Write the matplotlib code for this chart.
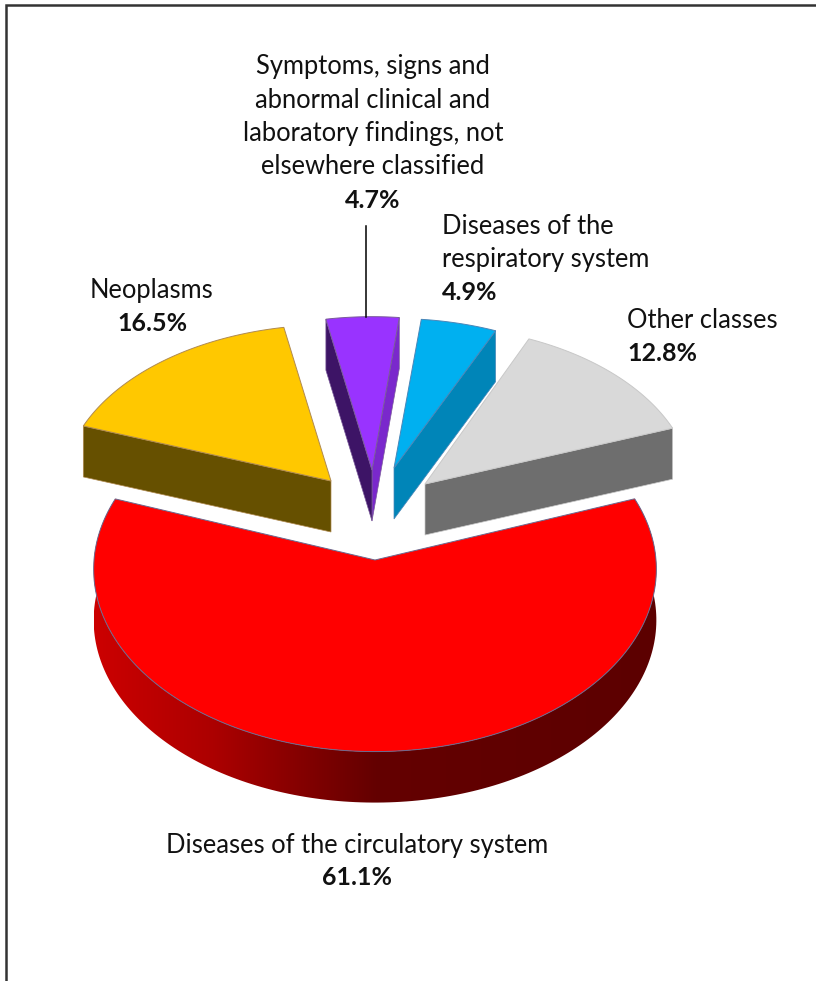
import numpy as np
import matplotlib
matplotlib.use("Agg")
import matplotlib.pyplot as plt
from matplotlib.colors import LinearSegmentedColormap
from matplotlib.patches import Polygon

plt.rcParams['font.family'] = ['Lato', 'DejaVu Sans']

# Data, in drawing order round the pie
values = [12.8, 4.9, 4.7, 16.5, 61.1]
percent_labels = ['12.8%', '4.9%', '4.7%', '16.5%', '61.1%']
name_labels = [
    ['Other classes'],
    ['Diseases of the', 'respiratory system'],
    ['Symptoms, signs and', 'abnormal clinical and', 'laboratory findings, not', 'elsewhere classified'],
    ['Neoplasms'],
    ['Diseases of the circulatory system'],
]

# Colours
top_colors = ['#D9D9D9', '#00B0F0', '#9933FF', '#FFC800', '#FF0000']
edge_colors = ['#C8C8C8', '#4A86B8', '#7A5A9A', '#B08A50', '#6A6A90']
start_side = ['#6E6E6E', '#0085B8', '#7A28CC', None, None]
end_side = [None, None, '#3D1466', '#665000', None]

# Layout in pixels: exploded centre and radii for each slice
centers = [(425, 484), (394, 468), (372, 470), (331, 481), (375, 560)]
radii_x = [268, 262, 262, 268, 281]
radii_y = [166, 157, 161, 164, 182]
DEPTH = 51
PERSPECTIVE = 0.05
START_ANGLE = 20

# Label placement: x, first baseline, line spacing, alignment
label_pos = [
    (627, 328, 33, 'left'),
    (442, 234, 33, 'left'),
    (373, 74, 33.5, 'center'),
    (152, 298, 33, 'center'),
    (357, 853, 32, 'center'),
]


def project(center, rx, ry, angle):
    t = np.radians(angle)
    k = 1 + PERSPECTIVE * np.sin(t)
    return np.column_stack((center[0] + rx * np.cos(t) / k, center[1] - ry * np.sin(t) / k))


fig = plt.figure(figsize=(8.16, 9.81), dpi=100)
ax = fig.add_axes([0, 0, 1, 1])
ax.axis('off')

bounds = START_ANGLE + np.concatenate(([0], np.cumsum(values))) * 3.6

for i in range(len(values)):
    c, rx, ry = centers[i], radii_x[i], radii_y[i]
    a0, a1 = bounds[i], bounds[i + 1]
    arc = project(c, rx, ry, np.linspace(a0, a1, 200))
    apex = np.array(c, dtype=float)
    down = np.array([0, DEPTH])

    # outer rim of the big slice, shaded from left to right
    if i == len(values) - 1:
        rim = np.vstack((arc, (arc + down)[::-1]))
        rim_patch = Polygon(rim, closed=True, fc='none', ec='none', transform=ax.transData)
        ax.add_patch(rim_patch)
        cmap = LinearSegmentedColormap.from_list('rim', [(0, '#CC0000'), (0.21, '#AC0000'), (0.4, '#7C0000'),
                                                         (0.5, '#640000'), (1, '#5C0000')])
        img = ax.imshow(np.linspace(0, 1, 256).reshape(1, -1), cmap=cmap, aspect='auto', vmin=0, vmax=1,
                        extent=(rim[:, 0].min(), rim[:, 0].max(), rim[:, 1].max(), rim[:, 1].min()), zorder=1)
        img.set_clip_path(rim_patch)

    # cut faces
    if start_side[i]:
        p = arc[0]
        ax.add_patch(Polygon([apex, p, p + down, apex + down], closed=True, fc=start_side[i],
                             ec=edge_colors[i], lw=0.5, zorder=2))
    if end_side[i]:
        p = arc[-1]
        ax.add_patch(Polygon([apex, p, p + down, apex + down], closed=True, fc=end_side[i],
                             ec=edge_colors[i], lw=0.5, zorder=2))

    # top of the slice
    ax.add_patch(Polygon(np.vstack((apex, arc)), closed=True, fc=top_colors[i],
                         ec=edge_colors[i], lw=0.7, zorder=3))

    # labels
    x, y, step, ha = label_pos[i]
    for line in name_labels[i]:
        ax.text(x, y, line, fontsize=18.4, ha=ha, va='baseline', color='#111111')
        y += step
    ax.text(x, y, percent_labels[i], fontsize=18, fontweight='bold', ha=ha, va='baseline', color='#111111')

# leader line for the symptoms slice
ax.plot([366, 366], [226, 317], color='black', lw=1.1, zorder=4)

# chart frame, only top and left are inside the crop
ax.plot([6, 6, 816], [981, 5, 5], color='#333333', lw=1.8, solid_joinstyle='miter', zorder=5)

ax.set_xlim(0, 816)
ax.set_ylim(981, 0)
fig.savefig('out.png', dpi=100, facecolor='white')
